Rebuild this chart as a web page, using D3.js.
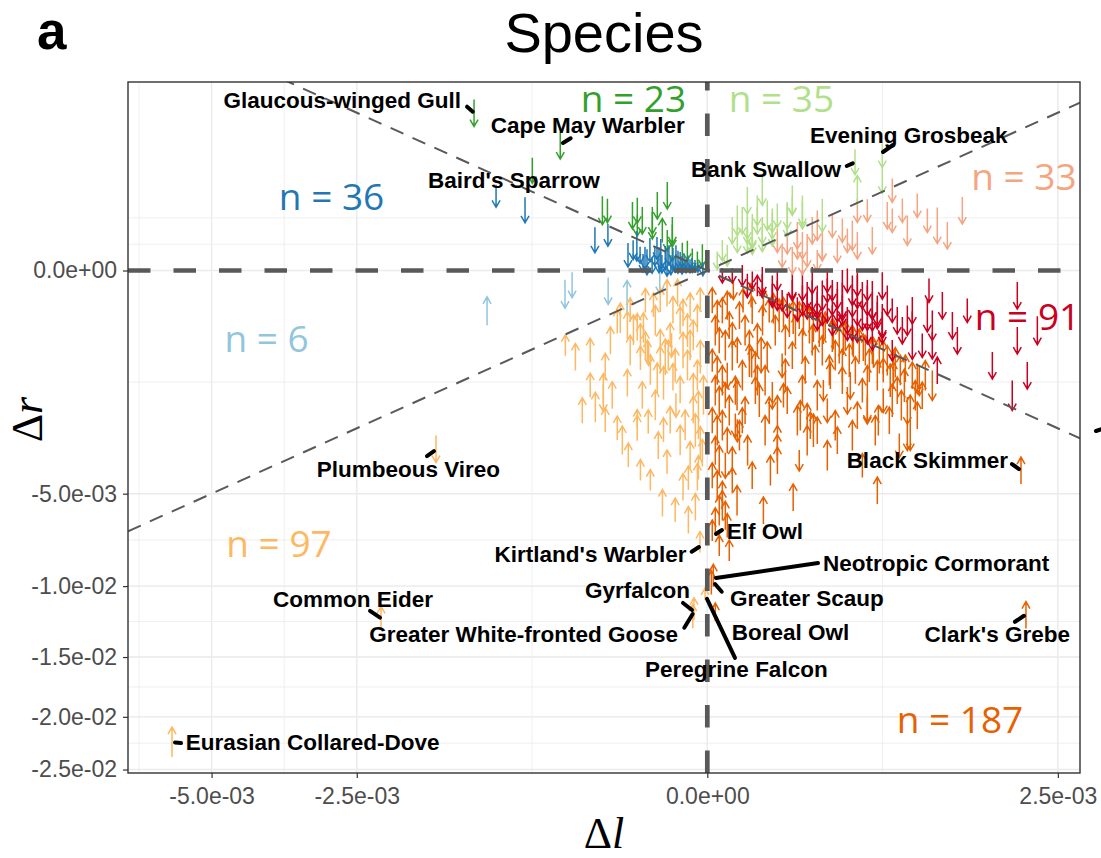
<!DOCTYPE html>
<html>
<head>
<meta charset="utf-8">
<title>Species</title>
<script src="https://cdn.jsdelivr.net/npm/d3@7/dist/d3.min.js"></script>
<style>
  body { margin: 0; background: #fff; }
  svg { display: block; }
</style>
</head>
<body>
<svg id="chart"></svg>
<script>
// Δl and Δr below are written in units of 1e-3
const UNIT = 1e-3

// one entry per species: [Δl, Δr, trend]; trend > 0 draws an up arrow, < 0 a down arrow
const darkBlue = [
  [-0.908, 0.557, -0.75], [-0.676, 0.367, -0.85], [-0.257, 0.093, -0.85], [-0.201, 0.127, -0.75],
  [-0.112, 0.042, -0.65], [-0.101, 0.060, -1.0], [-0.092, 0.024, -0.55], [-0.079, 0.016, -0.75],
  [-0.074, 0.0073, -0.85], [-0.067, 0.042, -0.8], [-0.056, 0.021, -0.65], [-0.0515, 0.050, -0.75],
  [-0.0475, 0.011, -0.85], [-0.042, 0.0042, -0.6], [-0.036, 0.016, -0.8], [-0.033, 0.0073, -0.95],
  [-0.030, 0.024, -0.65], [-0.027, 0.003, -0.65], [-0.024, 0.013, -0.75], [-0.021, 0.0042, -0.55],
  [-0.0175, 0.0073, -0.75], [-0.015, 0.009, -0.6], [-0.013, 0.003, -0.6], [-0.011, 0.0073, -0.55],
  [-0.0092, 0.002, -0.45], [-0.0076, 0.0056, -0.5], [-0.0061, 0.002, -0.45], [-0.0048, 0.0042, -0.4],
  [-0.0031, 0.002, -0.4], [-0.0018, 0.0012, -0.35], [-0.0004, 0.00023, -0.45], [-0.020, 0.016, -0.85],
  [-0.044, 0.027, -1.0], [-0.062, 0.003, -0.55], [-0.084, 0.0056, -0.6], [-0.128, 0.024, -0.8]
]
const darkGreen = [
  [-1.107, 2.49, -0.9], [-0.44, 1.569, -0.9], [-0.623, 1.004, -0.85], [-0.224, 0.361, -0.95],
  [-0.203, 0.36, -0.8], [-0.114, 0.304, -0.9], [-0.0997, 0.361, -0.85], [-0.086, 0.251, -0.9],
  [-0.0615, 0.203, -0.9], [-0.0326, 0.565, -0.9], [-0.0412, 0.161, 0.8], [-0.0326, 0.09, -0.7],
  [-0.0249, 0.123, -0.75], [-0.0249, 0.04, -0.7], [-0.0127, 0.023, -0.85], [-0.0046, 0.01, -0.8],
  [-0.002, 0.01, -0.6], [-0.0509, 0.424, -0.9], [-0.0615, 0.251, -0.9], [-0.0997, 0.203, -0.7],
  [-0.0081, 0.04, -0.65], [-0.0005, 0.023, -0.75], [-0.0249, 0.161, -0.9]
]
const lightGreen = [
  [0.444, 1.182, -0.85], [0.458, 0.643, 1.0], [0.623, 1.328, -0.8], [0.623, 0.813, -0.85],
  [0.0509, 0.361, -1.0], [0.0509, 0.251, -0.9], [0.0249, 0.251, -0.9], [0.0326, 0.161, -0.9],
  [0.0412, 0.123, -0.9], [0.0615, 0.161, -0.9], [0.086, 0.251, -0.8], [0.086, 0.123, -0.7],
  [0.13, 0.304, -0.9], [0.147, 0.492, -1.0], [0.184, 0.304, -0.9], [0.0183, 0.09, -0.8],
  [0.0326, 0.09, -0.85], [0.0081, 0.023, -0.7], [0.002, 0.01, -0.6], [0.0412, 0.063, -0.6],
  [0.0615, 0.09, -0.75], [0.0732, 0.304, -1.0], [0.0046, 0.04, -0.7], [0.0183, 0.251, -1.0],
  [0.0326, 0.203, -0.9], [0.0412, 0.161, -1.1], [0.0615, 0.643, -1.0], [0.086, 0.203, -0.9],
  [0.13, 0.251, -1.1], [0.147, 0.424, -0.6], [0.184, 0.361, -1.0], [0.269, 0.304, -1.1],
  [0.0127, 0.161, -0.9], [0.0997, 0.304, -0.8], [0.0326, 0.492, -0.9]
]
const salmon = [
  [0.458, 0.361, -0.8], [0.428, 0.123, -1.0], [0.458, 0.063, -0.9], [0.371, 0.161, -0.8],
  [0.696, 0.643, -0.8], [0.659, 0.304, -0.9], [0.696, 0.251, -0.8], [0.814, 0.161, -1.0],
  [0.897, 0.424, -0.8], [0.985, 0.251, -0.8], [1.172, 0.123, -0.9], [1.323, 0.361, -0.9],
  [0.0997, 0.09, -0.8], [0.13, 0.09, -0.9], [0.165, 0.123, -0.9], [0.184, 0.063, -0.9],
  [0.224, 0.161, -0.9], [0.269, 0.063, -1.0], [0.399, 0.09, -0.8], [0.774, 0.361, -0.8],
  [0.147, 0.01, -0.9], [0.184, 0.0025, -0.6], [0.114, 0.023, -0.8], [0.203, 0.04, -1.1],
  [0.246, 0.203, -1.0], [0.269, 0.04, -0.7], [0.165, 0.063, -0.9], [0.521, 0.361, -0.75],
  [0.318, 0.203, -0.8], [0.554, 0.09, -0.9], [1.076, 0.203, -1.2], [0.246, 0.01, -0.7],
  [0.344, 0.04, -0.8]
]
const red = [
  [0.623, -0.023, -0.9], [0.814, -0.251, -1.0], [0.855, -0.424, -1.6], [1.03, -0.304, -1.0],
  [1.03, -0.565, -0.9], [1.076, -1.004, 0.9], [1.124, -0.123, -0.9], [1.222, -0.304, -0.9],
  [1.272, -0.492, -0.9], [1.653, -0.906, -0.9], [1.955, -0.063, -0.9], [1.955, -0.492, -0.9],
  [2.216, -0.361, -0.95], [2.083, -1.107, -0.9], [1.892, -1.569, -1.0], [0.588, -0.161, -1.0],
  [0.623, -0.361, -0.9], [0.458, -0.04, -1.2], [0.371, -0.063, -1.7],
  [0.0249, -0.0025, -0.7], [0.0509, -0.023, 0.7], [0.0615, -0.01, -0.9], [0.086, -0.04, -1.0],
  [0.0997, -0.063, -1.0], [0.114, -0.09, -0.7], [0.147, -0.04, -0.7], [0.184, -0.023, -1.0],
  [0.184, -0.09, -1.0], [0.224, -0.063, -1.0], [0.224, -0.123, -0.9], [0.246, -0.09, -1.0],
  [0.269, -0.161, -1.0], [0.269, -0.063, -1.0], [0.293, -0.161, -0.8], [0.318, -0.04, -0.7],
  [0.318, -0.251, -1.0], [0.344, -0.123, -1.1], [0.371, -0.161, -1.0], [0.399, -0.251, -0.9],
  [0.428, -0.09, -1.1], [0.428, -0.304, -1.0], [0.458, -0.161, -1.0], [0.489, -0.203, -1.0],
  [0.489, -0.063, -0.9], [0.521, -0.361, -0.9], [0.554, -0.251, -0.7], [0.623, -0.304, -0.9],
  [0.13, -0.123, -0.8], [0.165, -0.15, -0.8], [0.203, -0.063, -0.9], [0.224, -0.01, -0.9],
  [0.246, -0.203, -1.0], [0.293, -0.04, -0.8], [0.344, -0.063, -0.9], [0.371, -0.09, -1.2],
  [0.399, -0.304, -1.0], [0.458, -0.023, -0.7], [0.521, -0.203, -1.0], [0.521, -0.04, -0.7],
  [0.554, -0.123, -0.9], [0.588, -0.203, -0.9], [0.623, -0.251, -1.1],
  [0.147, -0.023, -0.9], [0.246, -0.123, -0.9], [0.399, -0.01, -0.8], [0.318, -0.09, -1.0],
  [0.521, -0.09, -1.0], [0.696, -0.161, -0.8], [0.774, -0.361, -0.9], [0.94, -0.565, -0.8],
  [0.696, -0.643, -0.7], [0.086, -0.063, -0.8], [0.0615, -0.023, -0.8], [0.0412, -0.01, -0.6],
  [0.0127, -0.0025, -0.5], [0.0046, -0.0025, -0.5], [0.0326, -0.023, -0.8], [0.428, -0.04, -1.0],
  [0.554, -0.09, -1.3], [0.855, -0.161, -0.9], [0.985, -0.203, -1.1],
  [0.659, -0.09, -1.0], [0.734, -0.251, -0.9], [1.0, -0.04, -0.8], [0.293, -0.01, -0.8],
  [0.344, -0.203, -1.0], [0.203, -0.123, -0.9], [0.554, -0.424, -1.0], [0.458, -0.361, -0.8],
  [0.0997, -0.01, -0.7], [1.375, -0.161, -0.8]
]
const orange = [
  [0.0005, -0.09, 0.85], [0.002, -0.203, 1.0], [0.0046, -0.161, 0.85], [0.0081, -0.123, 0.95],
  [0.0013, -0.361, 1.0], [0.0029, -0.492, 0.85], [0.0066, -0.565, 1.0], [0.0127, -0.424, 0.85],
  [0.0005, -0.813, 0.75], [0.002, -1.004, 0.95], [0.0046, -1.215, 1.0], [0.0081, -1.107, -0.85],
  [0.0013, -1.446, 1.0], [0.0029, -1.697, 0.95], [0.0066, -1.569, 0.85], [0.0098, -1.968, 1.0],
  [0.0005, -2.259, 0.85], [0.002, -2.57, 1.0], [0.0046, -2.412, 1.0], [0.0081, -2.902, 0.85],
  [0.0013, -3.253, 0.95], [0.0029, -3.624, 1.0], [0.0066, -3.818, -0.85], [0.0005, -4.219, 0.85],
  [0.002, -4.641, 1.0], [0.0046, -5.083, 0.95], [0.0127, -4.43, 0.85], [0.0029, -5.783, 1.0],
  [0.0013, -6.275, 0.85], [0.0066, -6.027, 0.95], [0.0005, -6.787, 0.7], [0.00073, -9.339, 0.75],
  [0.00033, -9.773, 0.8], [0.0013, -11.71, 0.6], [0.0183, -0.643, 0.85], [0.016, -1.446, 0.95],
  [0.0183, -2.57, -0.75], [0.0249, -2.259, 0.85], [0.0098, -7.87, 0.7], [0.0029, -7.593, 0.7],
  [0.021, -0.203, 0.9], [0.029, -0.361, 1.0], [0.041, -0.161, 0.9], [0.051, -0.49, 1.1],
  [0.062, -0.25, 1.0], [0.073, -0.725, 0.9], [0.078, -0.161, 0.8], [0.094, -0.36, 1.0],
  [0.105, -0.203, 1.1], [0.114, -0.906, -0.8], [0.124, -0.49, 1.0], [0.137, -0.25, 1.1],
  [0.147, -0.725, 0.9], [0.158, -0.36, 1.0], [0.172, -0.203, 0.9], [0.184, -0.565, 1.1],
  [0.195, -1.0, 0.9], [0.212, -0.304, 1.2], [0.224, -0.49, 1.0], [0.237, -0.813, 1.0],
  [0.255, -0.36, 1.1], [0.269, -0.643, 1.0], [0.283, -0.304, 0.9], [0.303, -1.0, 1.0],
  [0.318, -0.424, 1.1], [0.333, -0.725, 1.0], [0.354, -0.565, 1.2], [0.371, -1.215, 0.9],
  [0.387, -0.424, 1.0], [0.41, -0.813, 1.1], [0.428, -0.49, 1.0], [0.446, -1.0, 0.9],
  [0.47, -0.565, 1.1], [0.489, -1.446, 0.8], [0.508, -0.643, 1.0], [0.534, -0.906, 1.1],
  [0.554, -0.643, 0.9], [0.588, -1.107, 1.0], [0.602, -0.725, 1.2], [0.63, -1.697, -0.8],
  [0.659, -0.813, 1.0], [0.681, -1.215, 1.1], [0.704, -0.906, 1.0], [0.734, -1.446, 0.9],
  [0.758, -1.0, 1.0], [0.79, -1.328, 1.1], [0.814, -1.968, -0.9], [0.855, -1.107, 0.9],
  [0.88, -1.569, 1.0], [0.914, -1.215, -1.0],
  [0.036, -0.565, 1.0], [0.047, -0.906, 0.9], [0.068, -1.215, 1.0], [0.086, -1.569, -0.9],
  [0.055, -1.697, 1.1], [0.1, -1.968, 1.0], [0.13, -1.697, 0.9], [0.165, -2.259, 1.0],
  [0.203, -2.111, 0.8], [0.246, -2.57, 0.9], [0.293, -1.968, -0.8], [0.333, -2.412, 1.0],
  [0.399, -1.697, -0.9], [0.458, -2.111, 0.9], [0.521, -1.968, -0.9], [0.574, -2.57, 1.0],
  [0.674, -2.259, 0.9], [0.766, -1.83, 1.0], [0.838, -2.733, -1.0], [0.897, -2.111, 0.9],
  [0.026, -0.09, 0.8], [0.0138, -0.04, -0.6], [0.039, -0.063, 0.8], [0.064, -0.103, 0.9],
  [0.089, -0.145, 1.0], [0.118, -0.177, 1.0], [0.15, -0.222, 1.1], [0.188, -0.251, 1.0],
  [0.229, -0.304, 1.1], [0.274, -0.361, 0.9], [0.323, -0.411, 1.0], [0.376, -0.464, 1.1],
  [0.434, -0.52, 1.0], [0.495, -0.595, 0.9], [0.561, -0.675, 1.0], [0.63, -0.76, 1.1],
  [0.719, -0.85, 1.0], [0.798, -0.964, 0.9], [0.967, -1.107, 1.0], [1.03, -1.328, -1.0],
  [0.018, -1.569, 1.0], [0.029, -1.968, 0.9], [0.021, -2.733, 1.0], [0.051, -1.215, 1.0],
  [0.078, -1.968, 0.9], [0.1, -2.902, 1.0], [0.118, -1.569, 0.8], [0.0997, -3.163, 0.9],
  [0.176, -2.111, 1.0], [0.216, -2.412, 0.9], [0.229, -2.57, 1.1], [0.274, -1.446, -0.7],
  [0.308, -1.107, 0.9], [0.416, -1.328, -0.9], [0.521, -1.912, -0.9], [0.595, -2.259, 1.0],
  [0.63, -1.0, 0.8], [0.704, -1.107, 0.9], [0.814, -2.733, -1.0], [0.838, -1.912, 0.9],
  [0.897, -1.171, -1.0], [0.588, -4.86, 0.9], [0.064, -5.78, 0.9], [0.15, -5.17, 0.9],
  [0.75, -3.075, -0.8], [2.002, -4.016, 0.9], [2.066, -11.92, 0.9], [0.081, -4.016, 1.0],
  [0.1, -3.624, 0.9], [0.203, -2.902, 1.0], [0.344, -2.9, 0.9], [0.428, -2.733, 1.0],
  [0.489, -3.818, 0.8], [0.293, -3.436, 1.0], [0.172, -3.624, -0.7], [0.033, -3.253, 1.0],
  [0.0127, -3.624, 0.9], [0.018, -5.31, 1.0], [0.0081, -6.529, 0.8], [0.0046, -5.545, 1.0],
  [0.041, -4.219, 0.9], [0.016, -2.412, -0.8], [0.068, -2.57, 1.0], [0.025, -1.107, 1.0],
  [0.036, -0.813, 1.1], [0.0127, -0.725, 1.0], [0.047, -1.446, 0.9], [0.059, -0.725, 1.2],
  [0.246, -1.569, 1.0], [0.371, -0.906, 1.1], [0.521, -1.215, 1.0], [0.696, -1.697, 1.1],
  [0.94, -1.569, 0.9], [0.184, -1.446, 1.0], [0.124, -1.107, 1.1], [0.0098, -0.304, 0.9],
  [0.04, -0.85, 1.0]
]
const lightOrange = [
  [-1.498, -3.2, -0.9], [-2.166, -12.05, 0.7], [-5.83, -22.32, 1.0], [-0.0011, -7.4, 0.7],
  [-0.0036, -11.5, 0.75], [-0.0043, -12.0, 0.8], [-0.0001, -10.5, 0.4], [-0.354, -0.75, 0.9],
  [-0.318, -1.97, 0.85], [-0.255, -1.88, 1.0], [-0.212, -0.93, 0.9], [-0.22, -1.4, 1.0],
  [-0.22, -1.63, -0.9], [-0.165, -2.49, 0.8], [-0.147, -2.89, 0.95], [-0.13, -1.27, 0.9],
  [-0.1, -2.49, 0.85], [-0.071, -2.3, 0.8], [-0.154, -0.227, 1.0], [-0.13, -0.3, 0.9],
  [-0.1, -0.32, 0.9], [-0.083, -0.33, 1.0], [-0.073, -0.67, 0.8], [-0.07, -0.69, -0.8],
  [-0.091, -0.77, 0.8], [-0.059, -0.12, 0.8], [-0.045, -0.485, 0.7], [-0.036, -0.75, 1.2],
  [-0.033, -0.051, 0.9], [-0.028, -0.42, 0.8], [-0.018, -0.05, 0.9], [-0.015, -0.25, 0.9],
  [-0.012, -0.18, 0.9], [-0.006, -0.12, 0.8], [-0.004, -0.42, 1.0], [-0.024, -1.14, 0.9],
  [-0.008, -0.9, 1.0], [-0.001, -0.75, 1.1], [-0.004, -1.36, 0.9], [-0.051, -1.16, 1.0],
  [-0.039, -1.27, 1.1], [-0.015, -1.43, 0.9], [-0.004, -1.95, 0.9], [-0.0016, -2.1, 1.6],
  [-0.001, -2.99, 1.1], [-0.121, -0.157, 0.8], [-0.165, -0.26, 0.8], [-0.1, -2.2, 0.6],
  [-0.066, -4.41, 0.7], [-0.033, -3.68, 0.8], [-0.012, -4.71, 0.9], [-0.002, -4.28, 0.9],
  [-0.041, -5.43, 0.9], [-0.0073, -4.32, 0.8], [-0.0029, -5.62, 0.9], [-0.0016, -3.9, 0.8],
  [-0.0005, -3.34, 0.9], [-0.111, -0.355, 1.0], [-0.091, -0.49, 1.1], [-0.078, -0.56, 0.9],
  [-0.031, -0.72, 1.0], [-0.021, -0.9, 1.1], [-0.026, -0.56, -0.8], [-0.008, -0.36, 1.1],
  [-0.002, -0.23, 0.9], [-0.001, -0.087, 0.8], [-0.006, -0.56, 1.0], [-0.045, -0.8, 0.9],
  [-0.055, -0.25, 1.0], [-0.191, -0.49, 0.9], [-0.279, -0.64, 0.8], [-0.086, -1.56, 0.9],
  [-0.055, -1.82, 1.0], [-0.028, -2.24, 0.9], [-0.015, -2.89, 1.0], [-0.006, -3.42, 0.9],
  [-0.02, -1.82, -0.8], [-0.039, -2.55, 0.8], [-0.01, -2.4, 1.0], [-0.0029, -2.56, 1.1],
  [-0.184, -1.56, 0.9], [-0.279, -1.32, 0.8], [-0.41, -0.56, 0.7], [-0.121, -0.64, 1.0],
  [-0.066, -0.99, 1.0], [-0.012, -0.64, 1.2], [-0.002, -1.1, 1.0], [-0.0003, -1.56, 1.3],
  [-0.045, -0.087, 0.8], [-0.078, -0.09, 0.8], [-0.024, -0.157, 0.9], [-0.212, -2.24, 0.8],
  [-0.127, -3.42, 0.8], [-0.091, -4.0, 0.7], [-0.021, -5.76, 0.8], [-0.0073, -6.25, 0.9],
  [-0.049, -3.07, 0.9]
]
const lightBlue = [
  [-0.987, -0.165, 0.95], [-0.412, -0.055, -0.95], [-0.372, -0.021, -0.85],
  [-0.2, -0.042, -0.9], [-0.131, -0.07, 1.1], [-0.046, -0.016, -0.7]
]

const groupData = [lightBlue, lightOrange, orange, red, salmon, lightGreen, darkGreen, darkBlue]
const groupColors = ['#92c5de', '#fdb863', '#e66101', '#ca0020', '#f4a582', '#b2df8a', '#33a02c', '#1f78b4']
const groupCounts = [6, 97, 187, 91, 33, 35, 23, 36]
// where each count is written, [Δl, Δr] in units of 1e-3
const countPositions = [[-3.953, -0.667], [-3.732, -8.24], [1.299, -21.48], [2.086, -0.355],
  [2.04, 0.651], [0.112, 2.52], [-0.111, 2.52], [-2.873, 0.367]]

const species = [
  ['Glaucous-winged Gull', -1.107, 2.49], ['Cape May Warbler', -0.44, 1.569],
  ["Baird's Sparrow", -0.908, 0.557], ['Bank Swallow', 0.444, 1.182],
  ['Evening Grosbeak', 0.623, 1.328], ['Plumbeous Vireo', -1.498, -3.2],
  ['Black Skimmer', 2.002, -4.016], ['Elf Owl', 0.0005, -6.787],
  ["Kirtland's Warbler", -0.0011, -7.4], ['Neotropic Cormorant', 0.00073, -9.339],
  ['Greater Scaup', 0.00033, -9.773], ['Boreal Owl', 0.0013, -11.71],
  ['Gyrfalcon', -0.0036, -11.5], ['Greater White-fronted Goose', -0.0043, -12.0],
  ['Peregrine Falcon', -0.0001, -10.5], ['Common Eider', -2.166, -12.05],
  ["Clark's Grebe", 2.066, -11.92], ['Eurasian Collared-Dove', -5.83, -22.32]
]

const xTicks = [-5e-3, -2.5e-3, 0, 2.5e-3]
const xTickLabels = ['-5.0e-03', '-2.5e-03', '0.0e+00', '2.5e-03']
const yTicks = [0, -5e-3, -1e-2, -1.5e-2, -2e-2, -2.5e-2]
const yTickLabels = ['0.0e+00', '-5.0e-03', '-1.0e-02', '-1.5e-02', '-2.0e-02', '-2.5e-02']
const xLimits = [-6.828e-3, 2.826e-3]
const yLimits = [-25.35e-3, 3.568e-3]

// label placement (pixel offsets from the point), like a repel layout
const labelLayout = {
  'Glaucous-winged Gull': { tx: -13, ty: -5, anchor: 'end', seg: [-7, -6.3, -1.3, -1.3] },
  'Cape May Warbler': { tx: -69.6, ty: -12.5, anchor: 'start', seg: [10.4, -7.2, 2.7, -2.5] },
  "Baird's Sparrow": { tx: -68, ty: -8, anchor: 'start' },
  'Bank Swallow': { tx: -14, ty: 15, anchor: 'end', seg: [-8.3, 4, -2.3, 1.3] },
  'Evening Grosbeak': { tx: -72.3, ty: -12.5, anchor: 'start', seg: [10.7, -10.5, 0.7, -3.5] },
  'Plumbeous Vireo': { tx: -119.3, ty: 28, anchor: 'start', seg: [-9, 7, -2, 2] },
  'Black Skimmer': { tx: -13, ty: -2.5, anchor: 'end', seg: [-9, -6.5, -2, -1.5] },
  'Elf Owl': { tx: 14.4, ty: 8.5, anchor: 'start', seg: [9.7, -0.5, 3.7, 3.5] },
  "Kirtland's Warbler": { tx: -13.3, ty: 20, anchor: 'end', seg: [-8.3, 9.7, -1, 5] },
  'Neotropic Cormorant': { tx: 109.7, ty: -4.5, anchor: 'start', seg: [104.7, -12.5, 2.7, 2.5] },
  'Greater Scaup': { tx: 18.7, ty: 23.5, anchor: 'start', seg: [10.4, 9.2, 3.7, 1.5] },
  'Boreal Owl': { tx: 16.4, ty: 28, anchor: 'start' },
  'Gyrfalcon': { tx: -4, ty: -11, anchor: 'end', seg: [-11, -6, -2, 1] },
  'Greater White-fronted Goose': { tx: -14.8, ty: 25.8, anchor: 'end', seg: [-8.5, 11.5, -0.1, -2.2] },
  'Peregrine Falcon': { tx: -60, ty: 83, anchor: 'start', seg: [29.9, 64, 1.9, 5] },
  'Common Eider': { tx: -108, ty: -10.3, anchor: 'start', seg: [-11, -6, -1, 0.7] },
  "Clark's Grebe": { tx: 44, ty: 26.7, anchor: 'end', seg: [-11, 6.7, -2, 0.7] },
  'Eurasian Collared-Dove': { tx: 13.7, ty: 8, anchor: 'start', seg: [3, 0.5, 9, 1] }
}

const width = 1101
const height = 858
const panel = { left: 128, right: 1080, top: 82, bottom: 773 }
const lineGrey = '#595959'

const svg = d3.select('#chart')
  .attr('width', width)
  .attr('height', height)
  .attr('viewBox', `0 0 ${width} ${height}`)

// both axes use a signed square-root scale
const x = d3.scaleSqrt().domain(xLimits).range([panel.left, panel.right])
const y = d3.scaleSqrt().domain(yLimits).range([panel.bottom, panel.top])

// ggplot-style minor breaks: midpoints of the majors in transformed space
function minorBreaks(scale, majors) {
  const t = v => Math.sign(v) * Math.sqrt(Math.abs(v))
  const inv = u => Math.sign(u) * u * u
  const lim = scale.domain().map(t)
  const b = majors.map(t).sort((a, c) => a - c)
  const bd = b[1] - b[0]
  if (lim[0] < b[0]) b.unshift(b[0] - bd)
  if (lim[1] > b[b.length - 1]) b.push(b[b.length - 1] + bd)
  const out = []
  for (let i = 0; i < b.length - 1; i++) out.push(b[i], (b[i] + b[i + 1]) / 2)
  out.push(b[b.length - 1])
  const d = scale.domain()
  return out.map(inv).filter(v => v > d[0] && v < d[1])
}

svg.append('defs').append('clipPath').attr('id', 'panel-clip')
  .append('rect')
  .attr('x', panel.left).attr('y', panel.top)
  .attr('width', panel.right - panel.left).attr('height', panel.bottom - panel.top)

// Grid
const grid = svg.append('g')
grid.selectAll('.minor-x').data(minorBreaks(x, xTicks)).join('line')
  .attr('x1', d => x(d)).attr('x2', d => x(d))
  .attr('y1', panel.top).attr('y2', panel.bottom)
  .attr('stroke', '#ebebeb').attr('stroke-width', 0.8)
grid.selectAll('.minor-y').data(minorBreaks(y, yTicks)).join('line')
  .attr('y1', d => y(d)).attr('y2', d => y(d))
  .attr('x1', panel.left).attr('x2', panel.right)
  .attr('stroke', '#ebebeb').attr('stroke-width', 0.8)
grid.selectAll('.major-x').data(xTicks).join('line')
  .attr('x1', d => x(d)).attr('x2', d => x(d))
  .attr('y1', panel.top).attr('y2', panel.bottom)
  .attr('stroke', '#ebebeb').attr('stroke-width', 1.4)
grid.selectAll('.major-y').data(yTicks).join('line')
  .attr('y1', d => y(d)).attr('y2', d => y(d))
  .attr('x1', panel.left).attr('x2', panel.right)
  .attr('stroke', '#ebebeb').attr('stroke-width', 1.4)

// Arrows
const arrowLen = d3.scaleLinear().domain([0, 1]).range([0, 30])

function arrowPath(d) {
  const cx = x(d[0] * UNIT)
  const cy = y(d[1] * UNIT)
  const half = arrowLen(Math.abs(d[2])) / 2
  const dir = d[2] > 0 ? -1 : 1
  const tip = cy + dir * half
  const tail = cy - dir * half
  const wing = tip - dir * 7
  return `M${cx},${tail}L${cx},${tip}M${cx - 4},${wing}L${cx},${tip}L${cx + 4},${wing}`
}

const arrows = svg.append('g').attr('clip-path', 'url(#panel-clip)')
groupData.forEach((rows, i) => {
  arrows.append('g')
    .selectAll('path').data(rows).join('path')
    .attr('d', arrowPath)
    .attr('fill', 'none')
    .attr('stroke', groupColors[i])
    .attr('stroke-width', 1.5)
})

// Reference lines
const refs = svg.append('g').attr('clip-path', 'url(#panel-clip)')
refs.append('line')
  .attr('x1', x(xLimits[0])).attr('y1', y(xLimits[0]))
  .attr('x2', x(xLimits[1])).attr('y2', y(xLimits[1]))
  .attr('stroke', lineGrey).attr('stroke-width', 2).attr('stroke-dasharray', '14,10')
refs.append('line')
  .attr('x1', x(xLimits[0])).attr('y1', y(-xLimits[0]))
  .attr('x2', x(xLimits[1])).attr('y2', y(-xLimits[1]))
  .attr('stroke', lineGrey).attr('stroke-width', 2).attr('stroke-dasharray', '14,10')
refs.append('line')
  .attr('x1', panel.left).attr('x2', panel.right)
  .attr('y1', y(0)).attr('y2', y(0))
  .attr('stroke', lineGrey).attr('stroke-width', 4.7).attr('stroke-dasharray', '22.5,23')
refs.append('line')
  .attr('x1', x(0)).attr('x2', x(0))
  .attr('y1', panel.bottom).attr('y2', panel.top)
  .attr('stroke', lineGrey).attr('stroke-width', 4.7).attr('stroke-dasharray', '22.5,23')

// Counts per sector
svg.append('g').selectAll('text').data(countPositions).join('text')
  .attr('x', d => x(d[0] * UNIT))
  .attr('y', d => y(d[1] * UNIT))
  .attr('text-anchor', 'middle')
  .attr('font-family', '"Open Sans", sans-serif')
  .attr('font-size', 37)
  .attr('fill', (d, i) => groupColors[i])
  .text((d, i) => `n = ${groupCounts[i]}`)

// Species labels with leader segments
const labels = svg.append('g')
species.forEach(([name, l, r]) => {
  const px = x(l * UNIT)
  const py = y(r * UNIT)
  const lay = labelLayout[name]
  if (lay.seg) {
    labels.append('line')
      .attr('x1', px + lay.seg[0]).attr('y1', py + lay.seg[1])
      .attr('x2', px + lay.seg[2]).attr('y2', py + lay.seg[3])
      .attr('stroke', '#000').attr('stroke-width', 4).attr('stroke-linecap', 'round')
  }
  labels.append('text')
    .attr('x', px + lay.tx).attr('y', py + lay.ty)
    .attr('text-anchor', lay.anchor)
    .attr('font-family', '"Liberation Sans", Arial, sans-serif')
    .attr('font-weight', 'bold')
    .attr('font-size', 22.5)
    .attr('fill', '#000')
    .text(name)
})
// leader of a label that falls outside the figure
labels.append('line')
  .attr('x1', 1096).attr('y1', 431).attr('x2', 1102).attr('y2', 429)
  .attr('stroke', '#000').attr('stroke-width', 4).attr('stroke-linecap', 'round')

// Axes
const xAxis = d3.axisBottom(x).tickValues(xTicks)
  .tickFormat((d, i) => xTickLabels[i]).tickSize(5).tickPadding(10)
const yAxis = d3.axisLeft(y).tickValues(yTicks)
  .tickFormat((d, i) => yTickLabels[i]).tickSize(5).tickPadding(6)

const xAxisGroup = svg.append('g')
  .attr('transform', `translate(0,${panel.bottom})`)
  .call(xAxis)
const yAxisGroup = svg.append('g')
  .attr('transform', `translate(${panel.left},0)`)
  .call(yAxis)

for (const g of [xAxisGroup, yAxisGroup]) {
  g.select('.domain').remove()
  g.selectAll('line').attr('stroke', '#333').attr('stroke-width', 1.2)
  g.selectAll('text')
    .attr('font-family', '"Liberation Sans", Arial, sans-serif')
    .attr('font-size', 23)
    .attr('fill', '#4d4d4d')
}

svg.append('rect')
  .attr('x', panel.left).attr('y', panel.top)
  .attr('width', panel.right - panel.left).attr('height', panel.bottom - panel.top)
  .attr('fill', 'none').attr('stroke', '#333').attr('stroke-width', 1.4)

// Axis titles
const xTitle = svg.append('text')
  .attr('x', (panel.left + panel.right) / 2).attr('y', 848)
  .attr('text-anchor', 'middle')
  .attr('font-family', '"Liberation Serif", "DejaVu Serif", serif')
  .attr('font-size', 44)
xTitle.append('tspan').text('Δ')
xTitle.append('tspan').attr('font-style', 'italic').text('l')

const yTitle = svg.append('text')
  .attr('transform', `translate(42,${(panel.top + panel.bottom) / 2 - 8}) rotate(-90)`)
  .attr('text-anchor', 'middle')
  .attr('font-family', '"Liberation Serif", "DejaVu Serif", serif')
  .attr('font-size', 44)
yTitle.append('tspan').text('Δ')
yTitle.append('tspan').attr('font-style', 'italic').text('r')

// Title and panel tag
svg.append('text')
  .attr('x', (panel.left + panel.right) / 2).attr('y', 52)
  .attr('text-anchor', 'middle')
  .attr('font-family', '"Liberation Sans", Arial, sans-serif')
  .attr('font-size', 56)
  .text('Species')

svg.append('text')
  .attr('x', 37).attr('y', 49)
  .attr('font-family', '"Liberation Sans", Arial, sans-serif')
  .attr('font-weight', 'bold')
  .attr('font-size', 53)
  .text('a')
</script>
</body>
</html>
